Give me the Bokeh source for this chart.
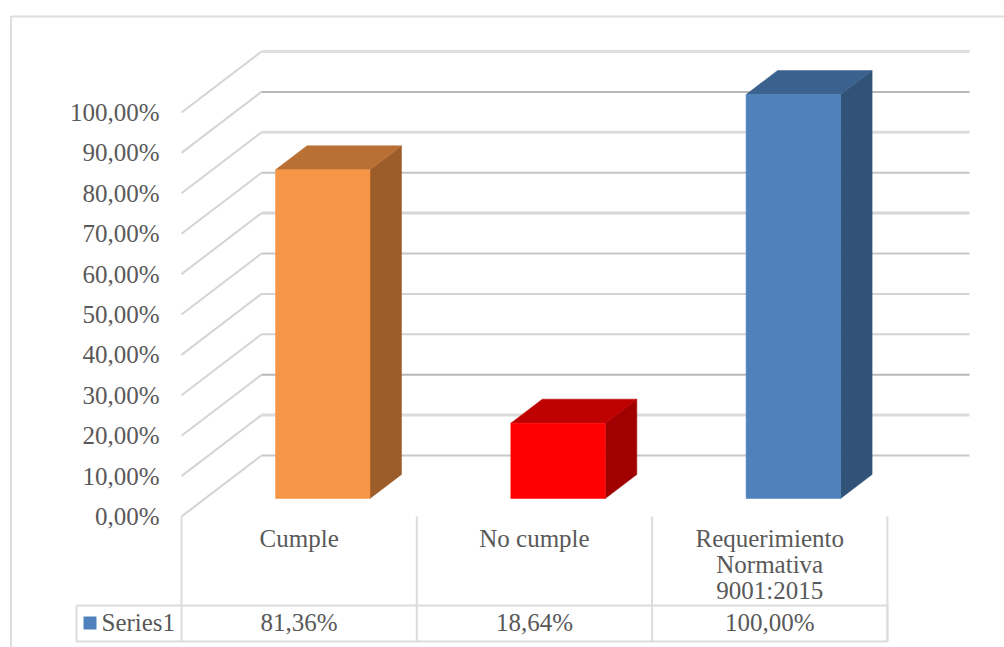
from bokeh.core.properties import value
from bokeh.embed import file_html
from bokeh.models import FixedTicker, LinearAxis, Range1d
from bokeh.plotting import figure
from bokeh.resources import INLINE

# Chart content
categories = ["Cumple", "No cumple", "Requerimiento\nNormativa\n9001:2015"]
percentages = [81.36, 18.64, 100.00]
table_labels = ["81,36%", "18,64%", "100,00%"]
series_name = "Series1"
front_colors = ["#f79646", "#ff0000", "#4f81bd"]
top_colors = ["#b97034", "#bf0000", "#3b618e"]
side_colors = ["#9c5d2b", "#a00000", "#325378"]
axis_ticks = [0, 10, 20, 30, 40, 50, 60, 70, 80, 90, 100]
axis_labels = ["0,00%", "10,00%", "20,00%", "30,00%", "40,00%", "50,00%",
               "60,00%", "70,00%", "80,00%", "90,00%", "100,00%"]
wall_colors = ["#c8c8c8", "#dcdcdc", "#b8b8b8", "#d4d4d4", "#d4d4d4", "#c8c8c8",
               "#d6d6d6", "#c4c4c4", "#dcdcdc", "#b8b8b8", "#dedede"]
wall_widths = [2, 3, 2, 2, 2, 2, 3, 2, 3, 2, 3]

W, H = 1004, 647
ORIGIN_X, ORIGIN_Y = 181, 516   # where the axis origin sits on the page
CAT_PX, PCT_PX = 235.3, 4.04    # pixels per category and per percentage point
DEPTH_X, DEPTH_Y = 80 / CAT_PX, 61 / PCT_PX  # oblique shift of the full floor depth
BAR_WIDTH = 0.4016
BAR_NEAR, BAR_FAR = 0.295, 0.689  # depth span of the columns
WALL_END = (969 - 261) / CAT_PX
FONT = "Liberation Serif"
FONT_SIZE = "25px"
TEXT = "#595959"


def cx(px):
    return (px - ORIGIN_X) / CAT_PX


def cy(px):
    return (ORIGIN_Y - px) / PCT_PX


p = figure(width=W, height=H, output_backend="svg", toolbar_location=None,
           x_range=Range1d(cx(0), cx(W)), y_range=Range1d(cy(H), cy(0)),
           min_border=0, outline_line_color=None, background_fill_color="white")
p.axis.visible = False
p.grid.visible = False

# Chart frame
p.line([cx(1004), cx(10.5), cx(10.5)], [cy(16), cy(16), cy(647)], line_color="#dedede", line_width=2)

# Side wall and back wall gridlines
for tick, color, width in zip(axis_ticks, wall_colors, wall_widths):
    p.line([0, DEPTH_X], [tick, tick + DEPTH_Y], line_color="#d4d4d4", line_width=2)
    p.line([DEPTH_X, DEPTH_X + WALL_END], [tick + DEPTH_Y, tick + DEPTH_Y],
           line_color=color, line_width=width)

# Columns in oblique projection
for i, v in enumerate(percentages):
    left = i + 0.5 - BAR_WIDTH / 2 + BAR_NEAR * DEPTH_X
    right = left + BAR_WIDTH
    shift_x = (BAR_FAR - BAR_NEAR) * DEPTH_X
    shift_y = (BAR_FAR - BAR_NEAR) * DEPTH_Y
    base = BAR_NEAR * DEPTH_Y
    top = base + v
    p.patch([right, right + shift_x, right + shift_x, right],
            [base, base + shift_y, top + shift_y, top],
            fill_color=side_colors[i], line_color=side_colors[i], line_width=0.5)
    p.patch([left, left + shift_x, right + shift_x, right],
            [top, top + shift_y, top + shift_y, top],
            fill_color=top_colors[i], line_color=top_colors[i], line_width=0.5)
    p.quad(left=left, right=right, bottom=base, top=top,
           fill_color=front_colors[i], line_color=front_colors[i], line_width=0.5)

# Data table beneath the plot
row_top, row_bottom = cy(605), cy(641)
table_left = cx(76)
for i in range(4):
    p.line([i, i], [0, row_bottom], line_color="#dcdcdc", line_width=2)
p.line([table_left, 3, 3, table_left, table_left],
       [row_top, row_top, row_bottom, row_bottom, row_top],
       line_color="#dcdcdc", line_width=2)
p.quad(left=cx(83), right=cx(96), top=cy(616), bottom=cy(629),
       fill_color=front_colors[2], line_color=None)
p.text(x=[cx(101)], y=[cy(622)], text=[series_name], text_font=value(FONT),
       text_font_size=FONT_SIZE, text_color=TEXT, text_align="left", text_baseline="middle")
p.text(x=[i + 0.5 for i in range(3)], y=[cy(622)] * 3, text=table_labels,
       text_font=value(FONT), text_font_size=FONT_SIZE, text_color=TEXT,
       text_align="center", text_baseline="middle")
p.text(x=[i + 0.5 for i in range(3)], y=[cy(524)] * 3, text=categories,
       text_font=value(FONT), text_font_size=FONT_SIZE, text_color=TEXT,
       text_align="center", text_baseline="top", text_line_height=0.98)

# Value axis pinned to the front edge of the side wall
axis = LinearAxis(fixed_location=0, ticker=FixedTicker(ticks=axis_ticks),
                  major_label_overrides={t: s for t, s in zip(axis_ticks, axis_labels)},
                  major_label_text_font=FONT, major_label_text_font_size=FONT_SIZE,
                  major_label_text_color=TEXT, major_label_standoff=16,
                  axis_line_color=None, major_tick_line_color=None,
                  minor_tick_line_color=None)
p.add_layout(axis, "left")

open("out.html", "w").write(file_html(p, INLINE))
